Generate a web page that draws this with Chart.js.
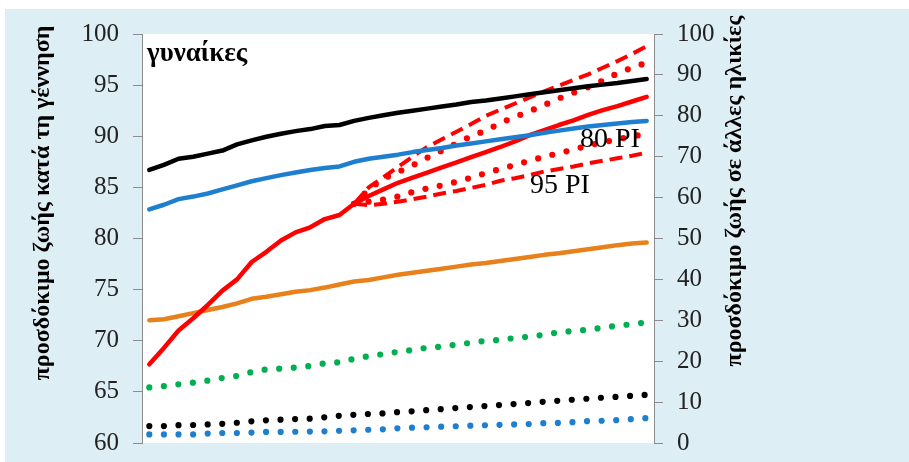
<!DOCTYPE html>
<html>
<head>
<meta charset="utf-8">
<script src="https://cdn.jsdelivr.net/npm/chart.js@4.4.1/dist/chart.umd.min.js"></script>
<style>
  html, body { margin: 0; padding: 0; background: #fff; overflow: hidden; }
  #frame { position: absolute; left: 5px; top: 9px; width: 904px; height: 453px; background: #ddeef4; }
  #wrap { position: absolute; left: 0; top: 0; width: 909px; height: 462px; }
</style>
</head>
<body>
<div id="frame"></div>
<div id="wrap"><canvas id="chart" width="909" height="462"></canvas></div>
<script>
// categories (years, the axis itself is not shown)
const years = ['1980','1981','1982','1983','1984','1985','1986','1987','1988','1989',
  '1990','1991','1992','1993','1994','1995','1996','1997','1998','1999',
  '2000','2001','2002','2003','2004','2005','2006','2007','2008','2009',
  '2010','2011','2012','2013','2014'];

// left axis: life expectancy at birth
const blackSolid = [86.7, 87.2, 87.8, 88.0, 88.3, 88.6, 89.2, 89.6, 89.95, 90.25, 90.5, 90.7, 91.0, 91.1, 91.5, 91.8, 92.05, 92.3,
  92.5, 92.7, 92.9, 93.1, 93.35, 93.5, 93.7, 93.9, 94.1, 94.3, 94.5, 94.7, 94.9, 95.05, 95.2, 95.4, 95.6];
const blueSolid = [82.85, 83.3, 83.85, 84.1, 84.4, 84.8, 85.2, 85.6, 85.9, 86.2, 86.45, 86.7, 86.9, 87.05, 87.5, 87.8, 88.0,
  88.2, 88.45, 88.65, 88.85, 89.1, 89.3, 89.5, 89.7, 89.9, 90.1, 90.35, 90.55, 90.75, 90.95, 91.1, 91.25, 91.4, 91.5];
const redSolid = [67.7, 69.3, 71.0, 72.2, 73.5, 74.9, 76.0, 77.7, 78.7, 79.8, 80.6, 81.1, 81.9, 82.3, 83.4,
  84.15, 84.8, 85.45, 85.95, 86.45, 86.95, 87.45, 87.95, 88.45, 88.95, 89.5, 90.1, 90.6, 91.1, 91.55, 92.1, 92.55, 92.95, 93.4, 93.85];
const orangeSolid = [72.0, 72.1, 72.4, 72.7, 73.0, 73.3, 73.65, 74.1, 74.3, 74.55, 74.8, 74.95, 75.2, 75.5, 75.8, 75.95, 76.2, 76.45,
  76.65, 76.85, 77.05, 77.25, 77.45, 77.6, 77.8, 78.0, 78.2, 78.4, 78.55, 78.75, 78.95, 79.15, 79.35, 79.5, 79.6];

// prediction intervals for the red line
const gap = [null, null, null, null, null, null, null, null, null, null, null, null, null, null];
const upper95 = gap.concat([83.4, 85.0, 86.0, 87.0, 88.0, 88.95, 89.7, 90.45, 91.2, 92.0, 92.6, 93.2, 93.8, 94.4, 94.95, 95.5, 96.05, 96.7, 97.35, 98.05, 98.8]);
const upper80 = gap.concat([83.4, 84.8, 85.85, 86.5, 87.15, 87.9, 88.6, 89.3, 90.0, 90.55, 91.3, 91.9, 92.45, 93.05, 93.7, 94.25, 94.8, 95.45, 96.15, 96.7, 97.2]);
const lower80 = gap.concat([83.4, 83.6, 83.8, 84.1, 84.55, 84.9, 85.2, 85.55, 85.95, 86.4, 86.8, 87.2, 87.6, 88.0, 88.35, 88.7, 89.1, 89.4, 89.7, 90.0, 90.2]);
const lower95 = gap.concat([83.4, 83.25, 83.4, 83.6, 83.85, 84.1, 84.4, 84.65, 84.95, 85.25, 85.65, 85.9, 86.2, 86.55, 86.8, 87.05, 87.35, 87.6, 87.85, 88.1, 88.4]);

// right axis: life expectancy at other ages
const greenDots = [13.6, 13.9, 14.35, 14.75, 15.25, 15.9, 16.4, 17.35, 18.0, 18.2, 18.45, 18.85, 19.5, 19.75, 20.6, 21.25, 21.75, 22.3,
  22.75, 23.3, 23.55, 24.1, 24.5, 25.0, 25.2, 25.7, 26.0, 26.5, 27.05, 27.4, 27.7, 28.2, 28.7, 29.05, 29.5];
const blackDots = [4.15, 4.15, 4.35, 4.4, 4.55, 4.7, 4.95, 5.3, 5.55, 5.7, 5.85, 5.95, 6.3, 6.65, 6.9, 7.1, 7.25, 7.55,
  7.75, 8.05, 8.3, 8.55, 8.8, 9.05, 9.3, 9.55, 9.8, 10.1, 10.35, 10.6, 10.85, 11.1, 11.3, 11.55, 11.8];
const blueDots = [2.1, 2.1, 2.1, 2.1, 2.3, 2.45, 2.45, 2.55, 2.7, 2.7, 2.75, 2.8, 2.85, 3.0, 3.1, 3.25, 3.35, 3.6,
  3.75, 3.85, 4.0, 4.1, 4.25, 4.35, 4.45, 4.55, 4.65, 4.85, 4.9, 5.1, 5.35, 5.45, 5.6, 5.85, 6.1];

const leftTicks = [60, 65, 70, 75, 80, 85, 90, 95, 100];
const rightTicks = [0, 10, 20, 30, 40, 50, 60, 70, 80, 90, 100];

const serif = "'Liberation Serif', 'Times New Roman', serif";

function solid(data, color, axis) {
  return { data, yAxisID: axis, borderColor: color, borderWidth: 4.5, pointRadius: 0, tension: 0,
    borderCapStyle: 'round', borderJoinStyle: 'round', fill: false };
}
function dotted(data, color, axis) {
  return { data, yAxisID: axis, borderColor: color, borderWidth: 6.2, borderDash: [0, 14.6], pointRadius: 0,
    tension: 0, borderCapStyle: 'round', borderJoinStyle: 'round', fill: false, spanGaps: false };
}
function dashed(data, color, axis) {
  return { data, yAxisID: axis, borderColor: color, borderWidth: 4, borderDash: [13, 7], pointRadius: 0,
    tension: 0, borderCapStyle: 'butt', fill: false };
}

const decor = {
  id: 'decor',
  beforeDraw(chart) {
    const { ctx, chartArea: a } = chart;
    ctx.save();
    ctx.fillStyle = '#ffffff';
    ctx.fillRect(a.left, a.top, a.right - a.left, a.bottom - a.top);
    ctx.restore();
  },
  afterDraw(chart) {
    const ctx = chart.ctx;
    ctx.save();
    ctx.fillStyle = '#000';
    // axis titles
    ctx.font = "bold 24px " + serif;
    ctx.textAlign = 'center';
    ctx.textBaseline = 'middle';
    ctx.save();
    ctx.translate(43, 203);
    ctx.rotate(-Math.PI / 2);
    ctx.fillText('προσδόκιμο ζωής κατά τη γέννηση', 0, 0);
    ctx.restore();
    ctx.save();
    ctx.translate(735, 191);
    ctx.rotate(-Math.PI / 2);
    ctx.fillText('προσδόκιμο ζωής σε άλλες ηλικίες', 0, 0);
    ctx.restore();
    // labels inside the plot
    ctx.textAlign = 'left';
    ctx.textBaseline = 'alphabetic';
    ctx.font = "bold 27px " + serif;
    ctx.fillText('γυναίκες', 147, 61);
    ctx.font = "28px " + serif;
    ctx.fillText('80 PI', 580, 147);
    ctx.fillText('95 PI', 530, 193);
    ctx.restore();
  }
};

new Chart(document.getElementById('chart'), {
  type: 'line',
  data: {
    labels: years,
    datasets: [
      solid(blackSolid, '#000000', 'y'),
      solid(blueSolid, '#1f7fcf', 'y'),
      solid(redSolid, '#ff0000', 'y'),
      dashed(upper95, '#ff0000', 'y'),
      dotted(upper80, '#ff0000', 'y'),
      dotted(lower80, '#ff0000', 'y'),
      dashed(lower95, '#ff0000', 'y'),
      solid(orangeSolid, '#e8801c', 'y'),
      dotted(greenDots, '#00b050', 'y2'),
      dotted(blackDots, '#000000', 'y2'),
      dotted(blueDots, '#1f7fcf', 'y2')
    ]
  },
  options: {
    responsive: false,
    animation: false,
    layout: { padding: { top: 34, bottom: 19, left: 0, right: 0 } },
    plugins: { legend: { display: false }, tooltip: { enabled: false } },
    scales: {
      x: { display: false, offset: true },
      y: {
        position: 'left',
        min: leftTicks[0], max: leftTicks[leftTicks.length - 1],
        afterBuildTicks: (s) => { s.ticks = leftTicks.map(v => ({ value: v })); },
        afterFit: (s) => { s.width = 142; },
        ticks: { font: { family: serif, size: 25, lineHeight: 0.3 }, color: '#222', padding: 14 },
        grid: { drawOnChartArea: false, drawTicks: true, tickLength: 9, color: '#8c8c8c' },
        border: { color: '#8c8c8c', width: 1 }
      },
      y2: {
        position: 'right',
        min: rightTicks[0], max: rightTicks[rightTicks.length - 1],
        afterBuildTicks: (s) => { s.ticks = rightTicks.map(v => ({ value: v })); },
        afterFit: (s) => { s.width = 255; },
        ticks: { font: { family: serif, size: 25, lineHeight: 0.3 }, color: '#222', padding: 14 },
        grid: { drawOnChartArea: false, drawTicks: true, tickLength: 9, color: '#8c8c8c' },
        border: { color: '#8c8c8c', width: 1 }
      }
    }
  },
  plugins: [decor]
});
</script>
</body>
</html>
